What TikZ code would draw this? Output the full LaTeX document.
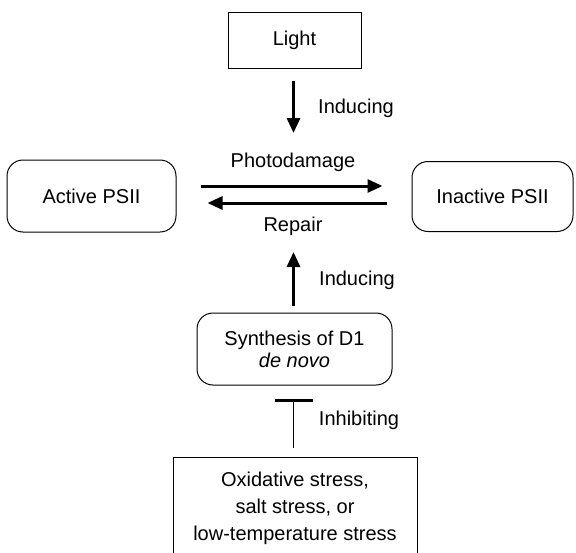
\documentclass[tikz,border=0pt]{standalone}
\usepackage{fontspec}
\setmainfont{Liberation Sans}
\usetikzlibrary{positioning, arrows.meta, calc}
\tikzset{
  plainbox/.style={rectangle, draw=black, line width=1pt, text centered, align=center},
  roundbox/.style={rectangle, rounded corners=16pt, draw=black, line width=1pt, text centered, align=center},
  arrow/.style={line width=3pt, -{Triangle[length=15pt,width=13pt]}},
  blocker/.style={line width=1.5pt, -{Bar[width=38pt,line width=2.5pt]}},
  lbl/.style={inner sep=0pt}
}

\begin{document}
\begin{tikzpicture}[x=1pt, y=-1pt, every node/.style={font=\fontsize{20}{24}\selectfont}]
                \useasboundingbox (0,0) rectangle (576,552);
                \node (light) [plainbox, minimum width=133pt, minimum height=56pt] at (294.5,40) {Light};
                \node (active) [roundbox, minimum width=169pt, minimum height=72pt] at (91.5,196) {Active PSII};
                \node (inactive) [roundbox, minimum width=161pt, minimum height=70pt] at (492.5,196.5) {Inactive PSII};
                \node (synth) [roundbox, minimum width=195pt, minimum height=72pt] at (294.5,349) {Synthesis of D1\\[-2pt]\textit{de novo}};
                \node (stress) [plainbox, minimum width=244pt, minimum height=102pt] at (295,508) {Oxidative stress,\\[3pt]salt stress, or\\[3pt]low-temperature stress};

                % free ends of the vertical connectors
                \coordinate (lightend) at (293.5,133);
                \coordinate (repairend) at (293.5,252);
                \coordinate (inhibend) at (293.5,399);

                \node (damage) [lbl] at (293,162) {Photodamage};
                \node (repair) [lbl] at (293,226) {Repair};
                \node (induce1) [lbl] at (356,108) {Inducing};
                \node (induce2) [lbl] at (357,280) {Inducing};
                \node (inhibit) [lbl] at (359,420) {Inhibiting};

                \draw [arrow] ([shift={(-1pt,-12pt)}]light.south) -- (lightend);
                \draw [arrow] ([shift={(24pt,10pt)}]active.east) -- ([shift={(-29pt,10.5pt)}]inactive.west);
                \draw [arrow] ([shift={(-25pt,-6.5pt)}]inactive.west) -- ([shift={(31pt,-7pt)}]active.east);
                \draw [arrow] ([shift={(-1pt,7pt)}]synth.north) -- (repairend);
                \draw [blocker] ([shift={(-1.5pt,9pt)}]stress.north) -- (inhibend);
\end{tikzpicture}
\end{document}
